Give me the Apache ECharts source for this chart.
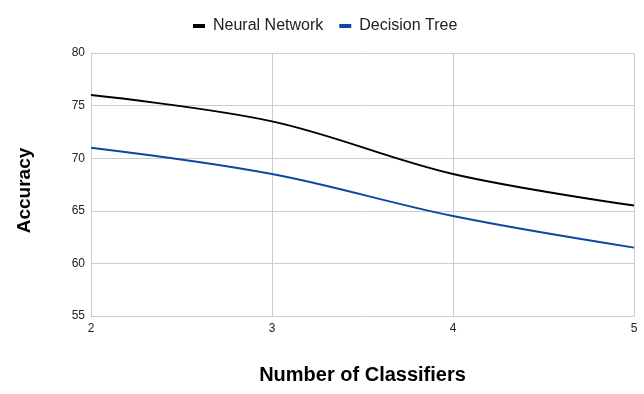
<!DOCTYPE html>
<html><head><meta charset="utf-8">
<script src="https://cdn.jsdelivr.net/npm/echarts@6/dist/echarts.min.js"></script>
<style>html,body{margin:0;padding:0;background:#fff}#c{width:644px;height:394px}</style>
</head><body><div id="c"></div>
<script>
const xValues = [2, 3, 4, 5];
const neuralNetwork = [76, 73.5, 68.5, 65.5];
const decisionTree = [71, 68.5, 64.5, 61.5];
const seriesNames = ['Neural Network', 'Decision Tree'];

const chart = echarts.init(document.getElementById('c'));
const pair = arr => xValues.map((x, i) => [x, arr[i]]);
chart.setOption({
  animation: false,
  textStyle: { fontFamily: 'Liberation Sans, Arial, sans-serif' },
  legend: {
    top: 13, left: 188, itemWidth: 12, itemHeight: 4, itemGap: 16,
    icon: 'rect',
    textStyle: { fontSize: 16, color: '#222', padding: [0, 0, 0, 3] },
    data: seriesNames
  },
  grid: { left: 91, right: 10, top: 53, bottom: 78 },
  xAxis: {
    type: 'value', min: 2, max: 5, interval: 1,
    name: 'Number of Classifiers', nameLocation: 'middle', nameGap: 49,
    nameTextStyle: { fontSize: 20, fontWeight: 'bold', color: '#000' },
    axisLine: { show: true, lineStyle: { color: '#ccc' } },
    axisTick: { show: false },
    axisLabel: { fontSize: 12, color: '#222', margin: 7 },
    splitLine: { show: true, lineStyle: { color: '#ccc' } }
  },
  yAxis: {
    type: 'value', min: 55, max: 80, interval: 5,
    name: 'Accuracy', nameLocation: 'middle', nameGap: 57,
    nameTextStyle: { fontSize: 19, fontWeight: 'bold', color: '#000', padding: [0, 12, 0, 0] },
    axisLine: { show: true, lineStyle: { color: '#ccc' } },
    axisTick: { show: false },
    axisLabel: { fontSize: 12, color: '#222', margin: 6 },
    splitLine: { show: true, lineStyle: { color: '#ccc' } }
  },
  series: [
    { name: seriesNames[0], type: 'line', smooth: 0.35, showSymbol: false,
      data: pair(neuralNetwork), color: '#000', lineStyle: { width: 2, color: '#000' } },
    { name: seriesNames[1], type: 'line', smooth: 0.35, showSymbol: false,
      data: pair(decisionTree), color: '#0d47a1', lineStyle: { width: 2, color: '#0d47a1' } }
  ]
});
</script></body></html>
